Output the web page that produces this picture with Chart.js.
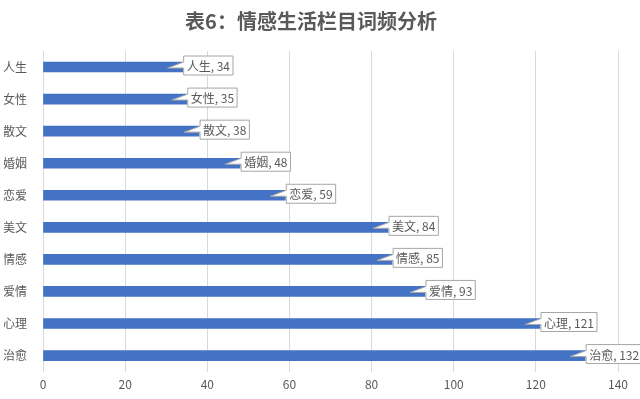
<!DOCTYPE html>
<html>
<head>
<meta charset="utf-8">
<script src="https://cdn.jsdelivr.net/npm/chart.js@4"></script>
<style>
  html, body { margin: 0; padding: 0; background: #fff; }
  #wrap { width: 640px; height: 399px; }
</style>
</head>
<body>
<div id="wrap"><canvas id="chart" width="640" height="399"></canvas></div>
<script>
// 栏目词频
var categories = ['人生', '女性', '散文', '婚姻', '恋爱', '美文', '情感', '爱情', '心理', '治愈'];
var counts = [34, 35, 38, 48, 59, 84, 85, 93, 121, 132];
var xTicks = [0, 20, 40, 60, 80, 100, 120, 140];

var FONT = '"Noto Sans CJK SC", "Noto Sans", sans-serif';

// callout style data labels
var calloutPlugin = {
  id: 'callouts',
  afterDatasetsDraw: function (chart) {
    var ctx = chart.ctx;
    var meta = chart.getDatasetMeta(0);
    ctx.save();
    ctx.font = '12px ' + FONT;
    meta.data.forEach(function (bar, i) {
      var txt = categories[i] + ', ' + counts[i];
      var w = ctx.measureText(txt).width + 6;
      var h = 19;
      var left = bar.x + 1;
      var top = bar.y - 11;
      var tipX = bar.x - 15;
      var tipY = bar.y + 1;
      ctx.beginPath();
      ctx.moveTo(left, top);
      ctx.lineTo(left + w, top);
      ctx.lineTo(left + w, top + h);
      ctx.lineTo(left, top + h);
      ctx.lineTo(left, top + 12);
      ctx.lineTo(tipX, tipY);
      ctx.lineTo(left, top + 6);
      ctx.closePath();
      ctx.fillStyle = '#fff';
      ctx.fill();
      ctx.strokeStyle = '#a6a6a6';
      ctx.lineWidth = 1;
      ctx.stroke();
      ctx.fillStyle = '#595959';
      ctx.textBaseline = 'middle';
      ctx.textAlign = 'left';
      ctx.fillText(txt, left + 3, top + h / 2 + 1);
    });
    ctx.restore();
  }
};

var views = document.getElementById('chart');
var statChart = new Chart(views, {
  type: 'bar',
  data: {
    labels: categories,
    datasets: [{
      label: '词频',
      data: counts,
      backgroundColor: '#4472c4',
      barThickness: 10
    }]
  },
  options: {
    indexAxis: 'y',
    responsive: false,
    animation: false,
    layout: { padding: { left: 4, right: 22, top: 0, bottom: 1 } },
    plugins: {
      legend: { display: false },
      tooltip: { enabled: false },
      title: {
        display: true,
        text: '表6：情感生活栏目词频分析',
        color: '#595959',
        font: { family: FONT, size: 20, weight: 'bold' },
        padding: { top: 9, bottom: 18 }
      }
    },
    scales: {
      x: {
        min: 0,
        max: 140,
        afterBuildTicks: function (s) { s.ticks = xTicks.map(function (v) { return { value: v }; }); },
        grid: { color: '#d9d9d9', drawTicks: false },
        border: { display: false },
        ticks: { color: '#595959', font: { family: FONT, size: 12 }, padding: 6 }
      },
      y: {
        grid: { display: false },
        border: { display: false },
        afterFit: function (s) { s.width = 39; },
        ticks: { color: '#595959', font: { family: FONT, size: 12 }, padding: 8 }
      }
    }
  },
  plugins: [calloutPlugin]
});
</script>
</body>
</html>
